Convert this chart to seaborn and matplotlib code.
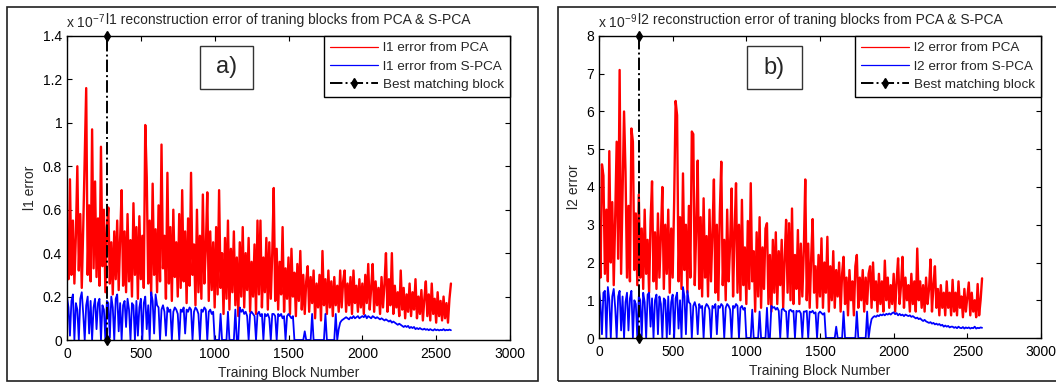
import numpy as np
import matplotlib
matplotlib.use("Agg")
import matplotlib.pyplot as plt
from matplotlib.patches import Rectangle
import seaborn as sns

# ---------------------------------------------------------------------------
# Reconstruction errors per training block (PCA vs. sparse PCA)
# l1 values in units of 1e-7, l2 values in units of 1e-9
# every curve is sampled every 10 blocks over blocks 0..2600
# ---------------------------------------------------------------------------
l1_pca = [
    0.50, 0.28, 0.74, 0.30, 0.55, 0.26, 0.48, 0.80, 0.32, 0.58, 0.24, 0.52, 0.85, 1.16, 0.30, 0.62, 0.27, 0.97, 0.33, 0.73,
    0.29, 0.56, 0.25, 0.89, 0.34, 0.60, 0.22, 0.52, 0.61, 0.26, 0.45, 0.21, 0.50, 0.28, 0.55, 0.23, 0.47, 0.69, 0.25, 0.50,
    0.22, 0.58, 0.27, 0.46, 0.20, 0.63, 0.30, 0.52, 0.19, 0.57, 0.28, 0.48, 0.24, 0.99, 0.75, 0.26, 0.55, 0.21, 0.72, 0.30,
    0.51, 0.22, 0.62, 0.27, 0.90, 0.33, 0.48, 0.19, 0.77, 0.26, 0.52, 0.18, 0.60, 0.29, 0.45, 0.20, 0.58, 0.24, 0.69, 0.27,
    0.50, 0.17, 0.56, 0.25, 0.77, 0.30, 0.44, 0.16, 0.60, 0.22, 0.48, 0.19, 0.67, 0.26, 0.42, 0.68, 0.18, 0.50, 0.23, 0.45,
    0.15, 0.52, 0.21, 0.69, 0.24, 0.40, 0.12, 0.47, 0.19, 0.55, 0.14, 0.42, 0.22, 0.50, 0.16, 0.38, 0.11, 0.45, 0.20, 0.52,
    0.15, 0.40, 0.23, 0.47, 0.13, 0.36, 0.20, 0.44, 0.12, 0.55, 0.21, 0.55, 0.15, 0.38, 0.22, 0.47, 0.14, 0.45, 0.19, 0.40,
    0.70, 0.18, 0.42, 0.14, 0.36, 0.21, 0.52, 0.13, 0.33, 0.19, 0.38, 0.12, 0.42, 0.20, 0.31, 0.11, 0.35, 0.18, 0.41, 0.14,
    0.30, 0.12, 0.27, 0.34, 0.13, 0.29, 0.17, 0.32, 0.10, 0.26, 0.15, 0.30, 0.09, 0.41, 0.16, 0.28, 0.12, 0.32, 0.15, 0.27,
    0.11, 0.29, 0.16, 0.25, 0.13, 0.32, 0.15, 0.27, 0.32, 0.13, 0.26, 0.16, 0.29, 0.12, 0.32, 0.17, 0.25, 0.13, 0.28, 0.15,
    0.26, 0.12, 0.30, 0.17, 0.35, 0.14, 0.24, 0.35, 0.13, 0.27, 0.16, 0.24, 0.12, 0.29, 0.15, 0.26, 0.40, 0.13, 0.28, 0.16,
    0.40, 0.12, 0.25, 0.15, 0.22, 0.11, 0.32, 0.14, 0.24, 0.10, 0.21, 0.13, 0.26, 0.11, 0.22, 0.14, 0.28, 0.10, 0.20, 0.12,
    0.23, 0.09, 0.19, 0.27, 0.11, 0.21, 0.09, 0.26, 0.12, 0.19, 0.08, 0.22, 0.11, 0.18, 0.09, 0.20, 0.10, 0.17, 0.08, 0.19,
    0.26,
]

l1_spca = [
    0.20, 0.15, 0.02, 0.18, 0.21, 0.00, 0.17, 0.14, 0.00, 0.19, 0.22, 0.12, 0.00, 0.16, 0.20, 0.03, 0.18, 0.00, 0.15, 0.19,
    0.05, 0.17, 0.19, 0.00, 0.16, 0.14, 0.00, 0.18, 0.17, 0.01, 0.20, 0.15, 0.00, 0.19, 0.21, 0.04, 0.17, 0.00, 0.16, 0.18,
    0.06, 0.19, 0.14, 0.00, 0.17, 0.16, 0.00, 0.18, 0.02, 0.15, 0.19, 0.00, 0.17, 0.20, 0.05, 0.16, 0.00, 0.22, 0.18, 0.03,
    0.21, 0.16, 0.15, 0.00, 0.14, 0.16, 0.13, 0.02, 0.15, 0.13, 0.14, 0.00, 0.13, 0.15, 0.14, 0.12, 0.00, 0.14, 0.13, 0.15,
    0.03, 0.14, 0.13, 0.15, 0.14, 0.00, 0.13, 0.15, 0.14, 0.12, 0.00, 0.14, 0.13, 0.15, 0.14, 0.00, 0.13, 0.14, 0.12, 0.13,
    0.00, 0.00, 0.00, 0.00, 0.12, 0.00, 0.00, 0.00, 0.00, 0.13, 0.00, 0.00, 0.00, 0.00, 0.14, 0.00, 0.00, 0.15, 0.13, 0.14,
    0.12, 0.13, 0.11, 0.00, 0.12, 0.13, 0.12, 0.11, 0.00, 0.12, 0.13, 0.11, 0.12, 0.00, 0.12, 0.11, 0.12, 0.10, 0.00, 0.12,
    0.12, 0.11, 0.00, 0.12, 0.11, 0.12, 0.10, 0.11, 0.00, 0.11, 0.12, 0.11, 0.10, 0.11, 0.00, 0.00, 0.00, 0.00, 0.00, 0.00,
    0.00, 0.04, 0.00, 0.00, 0.00, 0.00, 0.12, 0.00, 0.00, 0.00, 0.00, 0.00, 0.00, 0.00, 0.00, 0.12, 0.00, 0.00, 0.00, 0.00,
    0.00, 0.00, 0.12, 0.00, 0.05, 0.08, 0.09, 0.095, 0.10, 0.105, 0.10, 0.095, 0.105, 0.10, 0.11, 0.10, 0.105, 0.11, 0.10, 0.105,
    0.11, 0.105, 0.115, 0.10, 0.11, 0.105, 0.10, 0.11, 0.105, 0.10, 0.105, 0.10, 0.095, 0.10, 0.095, 0.09, 0.095, 0.09, 0.085, 0.09,
    0.08, 0.085, 0.08, 0.075, 0.07, 0.075, 0.07, 0.065, 0.06, 0.065, 0.06, 0.065, 0.055, 0.06, 0.055, 0.06, 0.05, 0.055, 0.05, 0.055,
    0.05, 0.048, 0.052, 0.047, 0.05, 0.045, 0.05, 0.046, 0.044, 0.05, 0.045, 0.048, 0.044, 0.047, 0.045, 0.05, 0.044, 0.047, 0.045, 0.048,
    0.045,
]

l2_pca = [
    3.1, 1.6, 4.6, 4.3, 1.7, 3.4, 1.5, 4.95, 2.0, 3.6, 1.4, 3.2, 5.2, 2.1, 7.1, 1.7, 3.8, 6.0, 4.4, 1.6,
    3.5, 1.5, 5.55, 5.2, 1.8, 3.3, 1.4, 3.8, 1.6, 2.9, 1.3, 3.4, 1.7, 2.6, 1.2, 3.1, 4.15, 1.5, 2.8, 1.3,
    3.3, 1.6, 2.7, 4.0, 1.3, 3.0, 1.7, 3.4, 1.2, 2.9, 1.6, 3.6, 6.28, 5.9, 1.5, 3.2, 1.3, 4.36, 1.8, 3.0,
    1.2, 3.5, 1.6, 5.47, 5.4, 1.4, 2.9, 4.7, 1.3, 3.2, 1.1, 3.7, 1.6, 2.7, 1.1, 3.4, 1.5, 2.8, 4.2, 1.2,
    3.0, 1.0, 3.3, 4.67, 1.4, 2.6, 1.0, 3.4, 1.5, 2.5, 3.96, 1.1, 2.8, 4.1, 1.2, 3.0, 1.0, 3.66, 1.4, 2.4,
    0.9, 3.1, 1.3, 4.1, 1.5, 2.3, 0.7, 2.8, 1.1, 3.2, 0.8, 2.4, 1.3, 2.9, 3.04, 0.9, 2.2, 0.7, 2.6, 1.2,
    2.8, 0.9, 2.3, 1.4, 2.6, 0.8, 2.1, 3.13, 1.2, 3.04, 1.0, 3.43, 0.9, 2.2, 1.3, 2.86, 0.9, 2.5, 1.1, 2.3,
    4.2, 1.0, 2.5, 0.8, 2.1, 3.15, 1.2, 1.9, 0.8, 2.2, 1.1, 2.64, 0.8, 2.0, 1.2, 2.68, 0.7, 1.9, 1.0, 2.3,
    0.8, 1.8, 1.1, 2.0, 0.7, 1.7, 2.15, 0.9, 1.6, 0.6, 1.8, 1.0, 1.5, 0.6, 1.9, 2.2, 0.8, 1.6, 1.0, 1.8,
    0.7, 1.6, 0.9, 1.7, 1.9, 0.8, 2.0, 1.0, 1.5, 0.7, 1.7, 0.9, 1.5, 0.7, 2.05, 1.0, 1.6, 0.8, 1.4, 0.9,
    1.7, 0.7, 1.5, 2.11, 0.9, 1.4, 2.15, 0.8, 1.6, 1.0, 1.4, 0.7, 1.7, 0.9, 1.5, 0.7, 2.37, 1.0, 1.5, 0.8,
    1.4, 0.7, 1.6, 0.9, 1.3, 2.08, 0.7, 1.4, 1.9, 0.8, 1.3, 0.6, 1.4, 0.8, 1.2, 0.6, 1.5, 0.8, 1.2, 0.6,
    1.54, 0.7, 1.2, 0.6, 1.5, 0.8, 1.1, 0.55, 1.3, 0.7, 1.1, 1.47, 0.6, 1.2, 0.7, 1.0, 0.55, 1.43, 0.6, 1.0,
    1.58,
]

l2_spca = [
    1.30, 0.90, 0.10, 1.20, 1.25, 0.00, 1.35, 1.00, 0.00, 1.10, 1.30, 0.80, 0.00, 1.10, 1.25, 0.20, 1.10, 0.00, 0.95, 1.20,
    0.20, 1.05, 1.25, 0.00, 1.00, 0.90, 0.00, 1.10, 1.00, 0.05, 1.20, 0.95, 0.00, 1.15, 1.20, 0.30, 1.05, 0.00, 1.00, 1.15,
    0.10, 1.10, 0.90, 0.00, 1.05, 1.00, 0.00, 1.10, 0.10, 0.95, 1.15, 0.00, 1.05, 1.20, 0.25, 1.00, 0.00, 1.35, 1.10, 0.10,
    1.25, 0.95, 0.90, 0.00, 0.85, 0.95, 0.80, 0.10, 0.90, 0.80, 0.85, 0.00, 0.80, 0.90, 0.85, 0.75, 0.00, 0.85, 0.80, 0.90,
    0.10, 0.85, 0.80, 0.90, 0.85, 0.00, 0.80, 0.90, 0.85, 0.75, 0.00, 0.85, 0.80, 0.90, 0.85, 0.00, 0.80, 0.85, 0.75, 0.80,
    0.00, 0.00, 0.00, 0.00, 0.75, 0.00, 0.00, 0.00, 0.00, 0.70, 0.00, 0.00, 0.00, 0.00, 0.80, 0.00, 0.00, 0.85, 0.80, 0.82,
    0.75, 0.80, 0.72, 0.00, 0.75, 0.78, 0.72, 0.70, 0.00, 0.72, 0.75, 0.70, 0.72, 0.00, 0.72, 0.70, 0.72, 0.65, 0.00, 0.70,
    0.70, 0.72, 0.00, 0.70, 0.68, 0.72, 0.65, 0.68, 0.00, 0.65, 0.70, 0.66, 0.62, 0.66, 0.00, 0.00, 0.00, 0.00, 0.00, 0.00,
    0.00, 0.30, 0.00, 0.00, 0.00, 0.00, 0.70, 0.00, 0.00, 0.00, 0.00, 0.00, 0.00, 0.00, 0.00, 0.70, 0.00, 0.00, 0.00, 0.00,
    0.00, 0.00, 0.70, 0.00, 0.30, 0.50, 0.55, 0.58, 0.56, 0.60, 0.58, 0.62, 0.60, 0.63, 0.60, 0.64, 0.62, 0.65, 0.62, 0.66,
    0.68, 0.63, 0.66, 0.60, 0.64, 0.60, 0.62, 0.58, 0.62, 0.60, 0.58, 0.60, 0.56, 0.58, 0.55, 0.52, 0.54, 0.50, 0.52, 0.48,
    0.45, 0.48, 0.44, 0.42, 0.40, 0.42, 0.38, 0.40, 0.36, 0.38, 0.35, 0.37, 0.33, 0.35, 0.30, 0.33, 0.30, 0.32, 0.28, 0.30,
    0.30, 0.27, 0.29, 0.26, 0.30, 0.27, 0.26, 0.29, 0.25, 0.28, 0.26, 0.28, 0.25, 0.27, 0.26, 0.30, 0.25, 0.27, 0.26, 0.28,
    0.27,
]

last_block = 2600
best_block = 270

x_ticks = [0, 500, 1000, 1500, 2000, 2500, 3000]
l1_ticks = [0, 0.2, 0.4, 0.6, 0.8, 1.0, 1.2, 1.4]
l2_ticks = [0, 1, 2, 3, 4, 5, 6, 7, 8]

panels = [
    dict(pca=l1_pca, spca=l1_spca, ticks=l1_ticks, norm="l1", exp="-7", tag="a)"),
    dict(pca=l2_pca, spca=l2_spca, ticks=l2_ticks, norm="l2", exp="-9", tag="b)"),
]

# ---------------------------------------------------------------------------
sns.set_theme(style="ticks")
plt.rcParams["font.family"] = ["Liberation Sans", "DejaVu Sans"]
plt.rcParams["mathtext.fontset"] = "custom"
plt.rcParams["mathtext.rm"] = "Liberation Sans"
plt.rcParams["mathtext.it"] = "Liberation Sans"
FS = 10

fig = plt.figure(figsize=(10.56, 3.85), dpi=100)

# frame around each sub-figure
for x0, w in [(7, 531), (558, 510)]:
    fig.add_artist(Rectangle((x0 / 1056, 4 / 385), w / 1056, 374 / 385,
                             transform=fig.transFigure, fill=False,
                             edgecolor="#202020", linewidth=1.2))

axes_rects = [
    [67 / 1056, 45 / 385, 443 / 1056, 304 / 385],
    [599 / 1056, 47 / 385, 442 / 1056, 302 / 385],
]
tag_boxes = [
    (0.300, 0.826, 0.120, 0.141),
    (0.3355, 0.8235, 0.123, 0.143),
]

for p, rect, tb in zip(panels, axes_rects, tag_boxes):
    ax = fig.add_axes(rect)
    ymax = p["ticks"][-1]

    xb_pca = np.linspace(0, last_block, len(p["pca"]))
    xb_spca = np.linspace(0, last_block, len(p["spca"]))

    sns.lineplot(x=xb_pca, y=p["pca"], ax=ax, color="#ff0000", linewidth=1.7,
                 estimator=None, sort=False, label=f"{p['norm']} error from PCA")
    sns.lineplot(x=xb_spca, y=p["spca"], ax=ax, color="#0000ff", linewidth=1.3,
                 estimator=None, sort=False, label=f"{p['norm']} error from S-PCA")
    ax.plot([best_block, best_block], [0, ymax], color="black", linestyle="-.",
            linewidth=1.4, marker="d", markersize=5, label="Best matching block",
            clip_on=False, zorder=5)

    ax.set_xlim(0, 3000)
    ax.set_ylim(0, ymax)
    ax.set_xticks(x_ticks)
    ax.set_yticks(p["ticks"])
    ax.set_xticklabels([f"{t:g}" for t in x_ticks], fontsize=FS)
    ax.set_yticklabels([f"{t:g}" for t in p["ticks"]], fontsize=FS)
    ax.tick_params(direction="in", length=3.5, width=0.8, top=True, right=True,
                   colors="black")
    ax.tick_params(axis="x", pad=5)
    ax.tick_params(axis="y", pad=3.5)
    for s in ax.spines.values():
        s.set_visible(True)
        s.set_color("black")
        s.set_linewidth(1.0)

    ax.set_xlabel("Training Block Number", fontsize=FS, labelpad=4)
    ax.set_ylabel(f"{p['norm']} error", fontsize=FS, labelpad=4)
    ax.set_title(f"{p['norm']} reconstruction error of traning blocks from PCA & S-PCA",
                 fontsize=FS, pad=8.5)
    ax.text(-0.003, 1.027, "x 10$^{" + p["exp"] + "}$", transform=ax.transAxes,
            fontsize=FS, ha="left", va="baseline")

    leg = ax.legend(loc="upper right", borderaxespad=0, frameon=True, fancybox=False,
                    edgecolor="black", framealpha=1, fontsize=9.7, handlelength=3.6,
                    handletextpad=0.35, labelspacing=0.42, borderpad=0.45)
    leg.get_frame().set_linewidth(1.0)
    for h in leg.get_lines()[:2]:
        h.set_linewidth(0.9)

    # panel tag box
    ax.add_patch(Rectangle((tb[0], tb[1]), tb[2], tb[3], transform=ax.transAxes,
                           fill=True, facecolor="white", edgecolor="#333333",
                           linewidth=1.0, zorder=6))
    ax.text(tb[0] + tb[2] / 2, tb[1] + tb[3] / 2, p["tag"], transform=ax.transAxes,
            fontsize=17, ha="center", va="center", zorder=7)

fig.savefig("out.png", dpi=100)
